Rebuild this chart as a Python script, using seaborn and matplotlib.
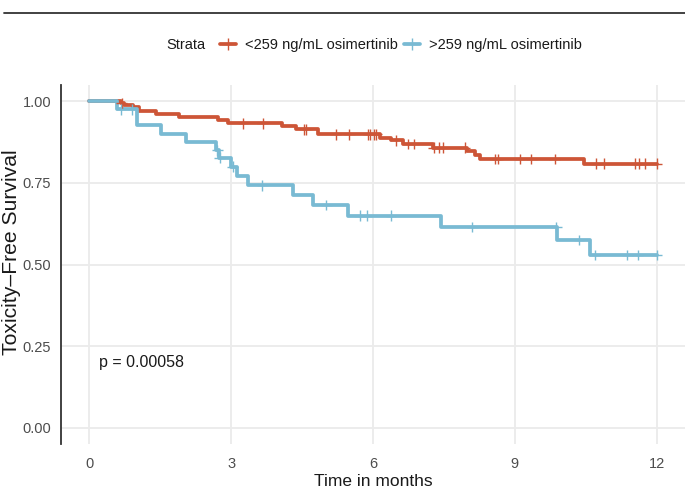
import numpy as np
import pandas as pd
import matplotlib
matplotlib.use("Agg")
import matplotlib.pyplot as plt
from matplotlib.lines import Line2D
import seaborn as sns

# Kaplan-Meier estimates by osimertinib trough concentration
strata = ["<259 ng/mL osimertinib", ">259 ng/mL osimertinib"]
colors = ["#CD5537", "#79BAD3"]

low_event_t = [0.66, 0.74, 0.92, 1.04, 1.42, 1.89, 2.72, 2.93, 4.08, 4.37,
               4.83, 6.14, 6.38, 6.63, 7.26, 7.99, 8.15, 8.27, 10.46]
low_event_s = [0.994, 0.988, 0.982, 0.970, 0.961, 0.953, 0.944, 0.933, 0.924, 0.914,
               0.899, 0.889, 0.880, 0.869, 0.858, 0.848, 0.836, 0.823, 0.809]
low_censor_t = [0.68, 3.25, 3.67, 4.55, 4.59, 5.21, 5.50, 5.90, 5.94, 6.03, 6.07,
                6.48, 6.75, 6.86, 7.28, 7.39, 7.49, 7.94, 8.59, 8.64, 9.11, 9.35,
                9.84, 10.72, 10.88, 11.55, 11.63, 11.75, 12.0]

high_event_t = [0.58, 1.00, 1.52, 2.05, 2.68, 2.75, 3.00, 3.12, 3.35, 4.30,
                4.74, 5.47, 7.44, 9.90, 10.58]
high_event_s = [0.976, 0.927, 0.901, 0.876, 0.850, 0.827, 0.800, 0.771, 0.743, 0.713,
                0.682, 0.650, 0.615, 0.575, 0.529]
high_censor_t = [0.67, 0.90, 2.71, 2.76, 3.03, 3.66, 5.01, 5.72, 5.87, 6.38,
                 8.10, 9.88, 10.36, 10.69, 11.38, 11.60, 12.0]

x_ticks = [0, 3, 6, 9, 12]
y_ticks = [0.0, 0.25, 0.50, 0.75, 1.00]
y_tick_labels = ["0.00", "0.25", "0.50", "0.75", "1.00"]
x_label = "Time in months"
y_label = "Toxicity\u2013Free Survival"
legend_title = "Strata"
p_text = "p = 0.00058"
t_end = 12.0


def step_rows(name, ev_t, ev_s):
    t = [0.0] + list(ev_t) + [t_end]
    s = [1.0] + list(ev_s) + [ev_s[-1]]
    return pd.DataFrame({"time": t, "surv": s, "strata": name})


def censor_rows(name, ev_t, ev_s, cens_t):
    ev_t = np.asarray(ev_t)
    ev_s = np.asarray(ev_s)
    idx = np.searchsorted(ev_t, cens_t, side="right")
    s = np.where(idx == 0, 1.0, ev_s[np.maximum(idx - 1, 0)])
    return pd.DataFrame({"time": cens_t, "surv": s, "strata": name})


curves = pd.concat([step_rows(strata[0], low_event_t, low_event_s),
                    step_rows(strata[1], high_event_t, high_event_s)],
                   ignore_index=True)
censors = pd.concat([censor_rows(strata[0], low_event_t, low_event_s, low_censor_t),
                     censor_rows(strata[1], high_event_t, high_event_s, high_censor_t)],
                    ignore_index=True)

sns.set_theme(style="whitegrid")
plt.rcParams["font.family"] = ["Liberation Sans", "DejaVu Sans"]
plt.rcParams["text.color"] = "#1A1A1A"

fig = plt.figure(figsize=(6.85, 4.95), dpi=100)
ax = fig.add_axes([61 / 685, 1 - 444 / 495, 624 / 685, (444 - 85) / 495])

palette = dict(zip(strata, colors))
sns.lineplot(data=curves, x="time", y="surv", hue="strata", palette=palette,
             drawstyle="steps-post", linewidth=2.7, estimator=None, sort=False,
             legend=False, ax=ax, zorder=2)
sns.scatterplot(data=censors, x="time", y="surv", hue="strata", palette=palette,
                marker="+", s=60, linewidth=1.0, legend=False, ax=ax, zorder=3)

ax.set_xlim(-0.6, 12.6)
ax.set_ylim(-0.05, 1.05)
ax.set_xticks(x_ticks)
ax.set_xticklabels([str(v) for v in x_ticks])
ax.set_yticks(y_ticks)
ax.set_yticklabels(y_tick_labels)
ax.tick_params(axis="both", length=0, labelsize=10.5, colors="#4D4D4D")
ax.tick_params(axis="y", pad=7)
ax.tick_params(axis="x", pad=9)

ax.grid(True, color="#EBEBEB", linewidth=1.3)
ax.set_facecolor("white")
for side in ["top", "right", "bottom"]:
    ax.spines[side].set_visible(False)
ax.spines["left"].set_color("#333333")
ax.spines["left"].set_linewidth(1.3)

ax.set_xlabel(x_label, fontsize=12.5, color="#1A1A1A", va="center")
ax.set_ylabel(y_label, fontsize=15.2, color="#1A1A1A", va="center")
ax.xaxis.set_label_coords((373 - 61) / 624, (444 - 481) / 359)
ax.yaxis.set_label_coords((12 - 61) / 624, (444 - 252) / 359)

ax.text(0.21, 0.2, p_text, ha="left", va="center", fontsize=11.5, color="#1A1A1A")

# Legend across the top
fig.text(166 / 685, 1 - 45 / 495, legend_title, ha="left", va="center",
         fontsize=10.5, color="#1A1A1A")
handles = [Line2D([], [], color=c, linewidth=2.7, marker="+", markersize=8,
                  markeredgewidth=1.0) for c in colors]
fig.legend(handles, strata, loc="center left", bbox_to_anchor=(220 / 685, 1 - 45 / 495),
           ncol=2, frameon=False, handlelength=1.1, handletextpad=0.6,
           columnspacing=0.45, fontsize=10.5, borderpad=0, borderaxespad=0)

# Rule across the top of the figure
fig.add_artist(Line2D([4 / 685, 1.0], [1 - 13 / 495, 1 - 13 / 495],
                      transform=fig.transFigure, color="#333333", linewidth=1.3))

fig.savefig("out.png", dpi=100, facecolor="white")
